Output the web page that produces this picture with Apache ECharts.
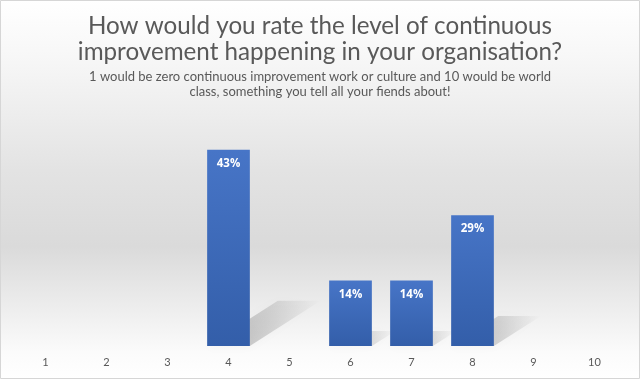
<!DOCTYPE html>
<html><head><meta charset="utf-8">
<script src="https://cdn.jsdelivr.net/npm/echarts@6/dist/echarts.min.js"></script>
<style>html,body{margin:0;padding:0;background:#fff}#c{width:640px;height:379px}</style>
</head><body><div id="c"></div>
<script>
const categories = ['1','2','3','4','5','6','7','8','9','10'];
const values = [0, 0, 0, 42.86, 0, 14.29, 14.29, 28.57, 0, 0];
const titleLines = ['How would you rate the level of continuous', 'improvement happening in your organisation?'];
const subLines = ['1 would be zero continuous improvement work or culture and 10 would be world', 'class, something you tell all your fiends about!'];

const chart = echarts.init(document.getElementById('c'));
const barRatio = 0.7;
const txt = (s, y, size) => ({type:'text', x:320, y:y, z:50,
  style:{text:s, textAlign:'center', textVerticalAlign:'middle', fontFamily:'Lato', fontSize:size, fill:'#595959'}});
chart.setOption({
  backgroundColor: {type:'linear',x:0,y:0,x2:0,y2:1,colorStops:[
    {offset:0,color:'#ffffff'},{offset:0.15,color:'#f7f7f7'},{offset:0.45,color:'#e3e3e3'},
    {offset:0.65,color:'#dadada'},{offset:0.82,color:'#eeeeee'},{offset:0.93,color:'#fbfbfb'},{offset:1,color:'#ffffff'}]},
  animation:false,
  grid:{left:15,right:15,top:117,bottom:33},
  xAxis:{type:'category',data:categories,
    axisLine:{show:false},axisTick:{show:false},
    axisLabel:{color:'#595959',fontFamily:'Lato',fontSize:11,margin:11}},
  yAxis:{type:'value',min:0,max:50,show:false,splitLine:{show:false}},
  graphic:[
    {type:'rect',shape:{x:0.5,y:0.5,width:639,height:378},style:{fill:'none',stroke:'#d6d6d6',lineWidth:1},z:100},
    txt(titleLines[0], 26, 24.2), txt(titleLines[1], 52, 24.2),
    txt(subLines[0], 76.5, 13), txt(subLines[1], 92, 13)
  ],
  series:[
    {type:'custom', z:1, silent:true,
      data: values.map((v,i)=>[i,v]),
      renderItem:function(params, api){
        const v = api.value(1);
        if (!v) return null;
        const base = api.coord([api.value(0),0]);
        const top = api.coord([api.value(0),v]);
        const h = base[1]-top[1];
        const w = api.size([1,0])[0]*barRatio;
        const x0 = base[0]-w/2, x1 = base[0]+w/2;
        const dx = h*0.36, dy = -h*0.23;
        return {type:'polygon',
          shape:{points:[[x0,base[1]],[x1,base[1]],[x1+dx,base[1]+dy],[x0+dx,base[1]+dy]]},
          style:{fill:{type:'linear',x:0,y:1,x2:1,y2:0,colorStops:[
            {offset:0,color:'rgba(0,0,0,0.26)'},{offset:0.55,color:'rgba(0,0,0,0.13)'},{offset:1,color:'rgba(0,0,0,0)'}]},
            shadowBlur:10,shadowColor:'rgba(0,0,0,0.15)'}};
      }},
    {type:'bar', z:2, data:values, barWidth:(barRatio*100)+'%',
      itemStyle:{color:{type:'linear',x:0,y:0,x2:0,y2:1,colorStops:[
        {offset:0,color:'#4775c7'},{offset:1,color:'#335ea9'}]}},
      label:{show:true,position:'insideTop',distance:8,color:'#ffffff',fontWeight:'bold',
        fontFamily:'Open Sans',fontSize:11.5,
        formatter:function(p){return p.value ? Math.round(p.value)+'%' : '';}}
    }
  ]
});
</script></body></html>
